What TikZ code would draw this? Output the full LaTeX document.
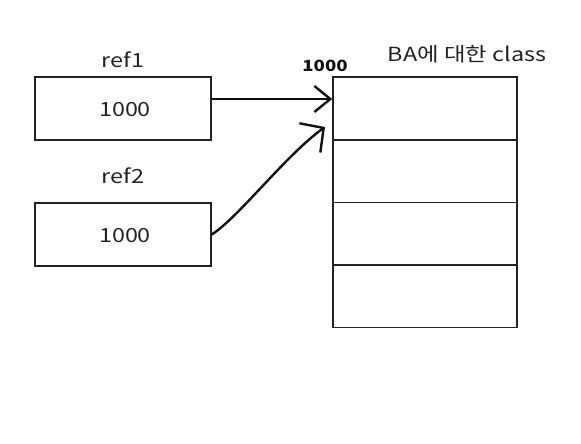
\documentclass[tikz,border=0pt]{standalone}
\usepackage{fontspec}
\usepackage{xcolor}
\usepackage{tikz}
\usetikzlibrary{positioning,arrows.meta}
\setmainfont{Noto Sans CJK KR}[FakeStretch=1.2]
\definecolor{ink}{HTML}{222222}
\definecolor{pen}{HTML}{111111}

\begin{document}
\begin{tikzpicture}[x=1pt,y=-1pt,every node/.style={font=\fontsize{19.5}{22}\selectfont,text=ink},
    membox/.style={draw=ink,line width=1.5pt,minimum width=176pt,minimum height=63pt,inner sep=0pt},
    cell/.style={draw=ink,line width=1.5pt,minimum width=184pt,minimum height=62.5pt,inner sep=0pt},
    link/.style={pen,line width=2.4pt,line cap=round,line join=round}]
    \useasboundingbox (0,0) rectangle (581,444);
    \node[membox] (box1) at (123,108.5) {};
    \node[membox] (box2) at (123,234.5) {};
    \node[anchor=base,inner sep=0pt] (val1) at (125,116) {1000};
    \node[anchor=base,inner sep=0pt] (val2) at (125,242) {1000};
    \node[anchor=base,inner sep=0pt] (ref1) at (123,67) {ref1};
    \node[anchor=base,inner sep=0pt] (ref2) at (123,183) {ref2};
    \foreach \i in {1,...,4}
      \node[cell] (cell\i) at (425,{46+62.5*\i}) {};
    \node[anchor=base,inner sep=0pt] (cname) at (467,62) {BA에 대한 class};
    \node[anchor=base,font=\fontsize{15.5}{17}\selectfont\bfseries,text=pen,inner sep=0pt] (addr) at (325,71) {1000};
    \coordinate (tip2) at (325,127);
    \draw[link,-{Straight Barb[length=16pt,width=26pt,line width=2.4pt]}] (box1.east |- 0,99) -- (cell1.west |- 0,99);
    \draw[link,-{Straight Barb[length=17pt,width=36pt,line width=2.4pt]}] (box2.east) .. controls (238,218) and (286,155) .. (tip2);
\end{tikzpicture}
\end{document}
